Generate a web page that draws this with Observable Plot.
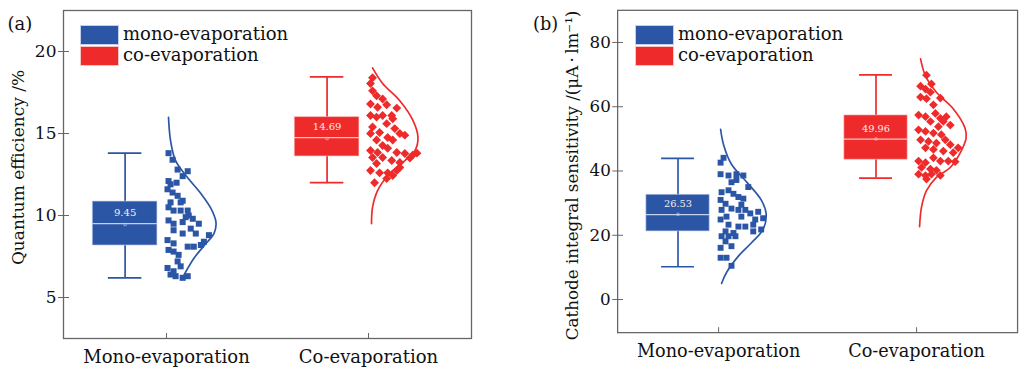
<!DOCTYPE html>
<html><head><meta charset="utf-8">
<script src="https://cdn.jsdelivr.net/npm/d3@7"></script>
<script src="https://cdn.jsdelivr.net/npm/@observablehq/plot@0.6"></script>
<style>
body{margin:0;background:#fff;}
#wrap{position:relative;width:1022px;height:373px;overflow:hidden;font-family:"DejaVu Serif",serif;background:#fff;}
.panel{position:absolute;top:0;}
.leg{position:absolute;font-size:18px;color:#111;line-height:20px;white-space:nowrap;}
.sw{position:absolute;width:39px;height:20px;box-sizing:border-box;}
</style></head><body><div id="wrap"></div>
<script>
// ---------- data ----------
const groups = ["Mono-evaporation", "Co-evaporation"];
const legendLabels = ["mono-evaporation", "co-evaporation"];
const colors = ["#2b56a6", "#ee2a2a"];
const lightColors = ["#c4cfee", "#f6c4c4"];
const panelLetters = ["(a)", "(b)"];
const yTitles = ["Quantum efficiency /%", "Cathode integral sensitivity /(\u03bcA\u2009\u00b7\u2009lm\u207b\u00b9)"];
const qeTicks = [5, 10, 15, 20];
const sensTicks = [0, 20, 40, 60, 80];

// box statistics (a) quantum efficiency
const qeWhiskerLow = [6.2, 12.0];
const qeQ1 = [8.17, 13.6];
const qeMedian = [9.5, 14.75];
const qeQ3 = [10.85, 16.0];
const qeWhiskerHigh = [13.8, 18.45];
const qeMean = [9.45, 14.69];
// box statistics (b) cathode integral sensitivity
const sensWhiskerLow = [10.2, 37.8];
const sensQ1 = [21.2, 43.5];
const sensMedian = [26.4, 49.9];
const sensQ3 = [32.6, 57.3];
const sensWhiskerHigh = [43.9, 69.9];
const sensMean = [26.53, 49.96];

// scatter samples: [jitter, value]
const qeMonoPts = [[0.010,13.8],[0.030,13.4],[0.055,12.8],[0.105,12.7],[0.080,12.4],[0.010,12.1],[0.020,11.9],[0.005,11.6],[0.030,11.4],[0.055,11.2],[0.080,10.9],[0.020,10.8],[0.070,10.8],[0.010,10.5],[0.035,10.3],[0.070,10.3],[0.105,10.3],[0.110,10.0],[0.130,9.8],[0.160,9.5],[0.010,9.7],[0.035,9.5],[0.080,9.6],[0.120,9.2],[0.035,9.1],[0.080,8.9],[0.210,8.8],[0.005,8.5],[0.035,8.3],[0.105,8.1],[0.135,8.1],[0.170,8.2],[0.185,8.4],[0.010,7.9],[0.035,7.8],[0.060,7.6],[0.005,6.8],[0.035,6.6],[0.070,6.9],[0.045,6.3],[0.080,6.2],[0.105,6.3],[0.020,6.4],[0.055,7.2],[0.095,9.9],[0.145,8.9],[0.050,12.0]];
const qeCoPts = [[0.020,18.4],[0.010,18.05],[0.020,17.6],[0.040,17.3],[0.010,16.8],[0.045,16.6],[0.090,16.75],[0.140,16.55],[0.010,16.1],[0.040,16.0],[0.070,16.1],[0.115,16.1],[0.090,15.6],[0.020,15.4],[0.010,15.0],[0.055,15.06],[0.130,15.3],[0.155,15.0],[0.180,14.9],[0.040,14.6],[0.095,14.76],[0.120,14.6],[0.070,14.27],[0.010,13.96],[0.045,13.84],[0.095,14.1],[0.140,13.84],[0.180,13.78],[0.220,13.7],[0.020,13.54],[0.070,13.54],[0.115,13.35],[0.155,13.23],[0.040,13.17],[0.155,12.93],[0.010,12.74],[0.055,12.6],[0.095,12.6],[0.140,12.74],[0.120,12.44],[0.090,12.25],[0.030,12.0],[0.240,13.8],[0.205,13.5],[0.070,17.1],[0.120,15.9]];
const sensMonoPts = [[0.025,44.1],[0.010,42.6],[0.010,39.0],[0.050,38.6],[0.090,39.0],[0.125,38.6],[0.065,36.5],[0.090,37.2],[0.150,35.0],[0.015,33.4],[0.050,34.0],[0.075,32.9],[0.100,31.9],[0.125,31.4],[0.010,31.0],[0.035,29.8],[0.065,28.3],[0.100,27.9],[0.135,27.9],[0.160,26.8],[0.200,27.3],[0.015,27.9],[0.040,25.8],[0.115,25.8],[0.185,24.9],[0.225,25.3],[0.010,24.9],[0.050,23.3],[0.100,22.7],[0.135,22.7],[0.175,23.3],[0.215,21.8],[0.035,21.2],[0.075,20.7],[0.175,21.2],[0.015,19.7],[0.050,19.7],[0.085,19.7],[0.035,18.1],[0.010,16.1],[0.065,16.6],[0.010,13.0],[0.040,13.0],[0.065,10.5],[0.115,29.5]];
const sensCoPts = [[0.050,69.8],[0.075,67.1],[0.020,66.4],[0.045,65.5],[0.070,64.5],[0.020,63.0],[0.120,62.7],[0.050,62.5],[0.085,60.6],[0.095,57.9],[0.010,57.4],[0.045,56.9],[0.120,56.4],[0.150,56.9],[0.070,55.4],[0.135,55.4],[0.170,54.3],[0.110,53.8],[0.010,52.8],[0.045,52.3],[0.085,51.8],[0.125,51.3],[0.020,49.7],[0.060,49.2],[0.100,48.7],[0.145,49.7],[0.170,48.2],[0.045,47.2],[0.085,46.7],[0.135,46.2],[0.210,47.2],[0.185,45.7],[0.010,43.1],[0.045,42.6],[0.085,44.1],[0.120,43.1],[0.160,43.1],[0.195,42.9],[0.025,41.1],[0.070,40.6],[0.010,39.0],[0.045,38.6],[0.075,39.0],[0.120,38.6],[0.050,37.5],[0.100,40.2]];

// fitted distribution curves: [value, density offset]
const qeMonoCurve = [[15.98,0.010],[14.57,0.020],[13.35,0.045],[12.3,0.105],[11.34,0.170],[10.43,0.220],[9.57,0.245],[8.9,0.235],[8.29,0.195],[7.38,0.135],[6.22,0.080]];
const qeCoCurve = [[19.0,0.020],[18.05,0.070],[17.0,0.155],[15.8,0.220],[14.76,0.245],[13.96,0.230],[13.35,0.180],[12.56,0.105],[11.52,0.045],[10.5,0.020],[9.51,0.015]];
const sensMonoCurve = [[53.0,0.010],[48.2,0.025],[42.1,0.065],[36.0,0.150],[31.0,0.215],[26.8,0.240],[21.8,0.225],[17.6,0.165],[13.5,0.100],[8.4,0.040],[5.0,0.015]];
const sensCoCurve = [[74.9,0.020],[69.6,0.045],[64.5,0.100],[59.4,0.185],[53.3,0.245],[50.2,0.250],[46.2,0.225],[41.1,0.170],[38.0,0.100],[33.9,0.050],[28.8,0.025],[22.7,0.015]];

// ---------- drawing ----------
const BOX_SHIFT = -0.205, BOX_HALF = 0.16, CAP_HALF = 0.083;
const symbols = ["square", "diamond2"];
const radii = [3.4, 4.0];

function panel(cfg) {
  const marks = [Plot.frame({stroke: "#666", strokeWidth: 1.3})];
  groups.forEach((g, i) => {
    const xc = i + 1 + BOX_SHIFT;
    const s = [{xc, lo: cfg.lo[i], q1: cfg.q1[i], med: cfg.med[i], q3: cfg.q3[i], hi: cfg.hi[i], mean: cfg.mean[i]}];
    const c = colors[i], lc = lightColors[i];
    marks.push(
      Plot.ruleX(s, {x: "xc", y1: "lo", y2: "hi", stroke: c, strokeWidth: 1.7}),
      Plot.ruleY(s, {y: "lo", x1: d => d.xc - CAP_HALF, x2: d => d.xc + CAP_HALF, stroke: c, strokeWidth: 1.7}),
      Plot.ruleY(s, {y: "hi", x1: d => d.xc - CAP_HALF, x2: d => d.xc + CAP_HALF, stroke: c, strokeWidth: 1.7}),
      Plot.rect(s, {x1: d => d.xc - BOX_HALF, x2: d => d.xc + BOX_HALF, y1: "q1", y2: "q3", fill: c, stroke: lc, strokeOpacity: 0.6, strokeWidth: 1}),
      Plot.ruleY(s, {y: "med", x1: d => d.xc - BOX_HALF, x2: d => d.xc + BOX_HALF, stroke: lc, strokeWidth: 1.3}),
      Plot.dot(s, {x: "xc", y: "mean", symbol: "square", r: 1.3, stroke: lc, strokeWidth: 0.6, fill: "none"}),
      Plot.text(s, {x: "xc", y: "med", text: d => d.mean.toFixed(2), dy: -11, fill: "#f7eaea", fontSize: 10}),
      Plot.dot(cfg.pts[i].map(([j, v]) => ({x: i + 1 + j, y: v})), {x: "x", y: "y", symbol: symbols[i], r: radii[i], fill: c, stroke: "none"}),
      Plot.line(cfg.curves[i].map(([v, o]) => ({x: i + 1 + o, y: v})), {x: "x", y: "y", stroke: c, strokeWidth: 1.7, curve: "catmull-rom"})
    );
  });
  marks.push(
    Plot.axisY({ticks: cfg.ticks, tickSize: 5, tickPadding: 2, stroke: "#666", fontSize: 17}),
    Plot.axisY({ticks: cfg.ticks, tickSize: -6, tickFormat: () => "", stroke: "#666"}),
    Plot.axisX({ticks: [1, 2], tickSize: 0, tickPadding: 12, tickFormat: d => groups[d - 1], fontSize: 18}),
    Plot.axisX({ticks: [1, 2], tickSize: -5, tickFormat: () => "", stroke: "#666"}),
    Plot.text([cfg.title], {frameAnchor: "left", textAnchor: "middle", lineAnchor: "middle", rotate: -90, dx: cfg.titleDx, dy: cfg.titleDy, fontSize: cfg.titleSize, fill: "#111"}),
    Plot.text([cfg.letter], {frameAnchor: "top-left", textAnchor: "start", dx: cfg.letterDx, dy: 7, fontSize: 18, fill: "#111"})
  );
  return Plot.plot({
    width: cfg.width, height: 373,
    marginLeft: cfg.ml, marginRight: cfg.mr, marginTop: 10, marginBottom: 35,
    x: {domain: [0.49, 2.51], label: null},
    y: {domain: cfg.domain, label: null},
    style: {fontFamily: "DejaVu Serif, serif", fontSize: "17px", color: "#111", background: "transparent", overflow: "visible"},
    marks
  });
}

const wrap = document.getElementById("wrap");
const cfgs = [
  {left: 0, width: 511, ml: 63, mr: 40, domain: [2.5, 22.5], ticks: qeTicks,
   lo: qeWhiskerLow, q1: qeQ1, med: qeMedian, q3: qeQ3, hi: qeWhiskerHigh, mean: qeMean,
   pts: [qeMonoPts, qeCoPts], curves: [qeMonoCurve, qeCoCurve],
   title: yTitles[0], titleDx: -45, titleDy: -7, titleSize: 17, letter: panelLetters[0], letterDx: -56, legX: 80},
  {left: 511, width: 520, ml: 108, mr: 5, domain: [-10.3, 90], ticks: sensTicks,
   lo: sensWhiskerLow, q1: sensQ1, med: sensMedian, q3: sensQ3, hi: sensWhiskerHigh, mean: sensMean,
   pts: [sensMonoPts, sensCoPts], curves: [sensMonoCurve, sensCoCurve],
   title: yTitles[1], titleDx: -46, titleDy: 4, titleSize: 17, letter: panelLetters[1], letterDx: -86, legX: 635}
];
cfgs.forEach(cfg => {
  const div = document.createElement("div");
  div.className = "panel";
  div.style.left = cfg.left + "px";
  div.appendChild(panel(cfg));
  wrap.appendChild(div);
  legendLabels.forEach((lab, i) => {
    const sw = document.createElement("div");
    sw.className = "sw";
    sw.style.left = cfg.legX + "px";
    sw.style.top = (25 + i * 21) + "px";
    sw.style.background = colors[i];
    sw.style.border = "1px solid " + lightColors[i];
    wrap.appendChild(sw);
    const t = document.createElement("div");
    t.className = "leg";
    t.style.left = (cfg.legX + 43) + "px";
    t.style.top = (24 + i * 21) + "px";
    t.textContent = lab;
    wrap.appendChild(t);
  });
});
</script></body></html>
